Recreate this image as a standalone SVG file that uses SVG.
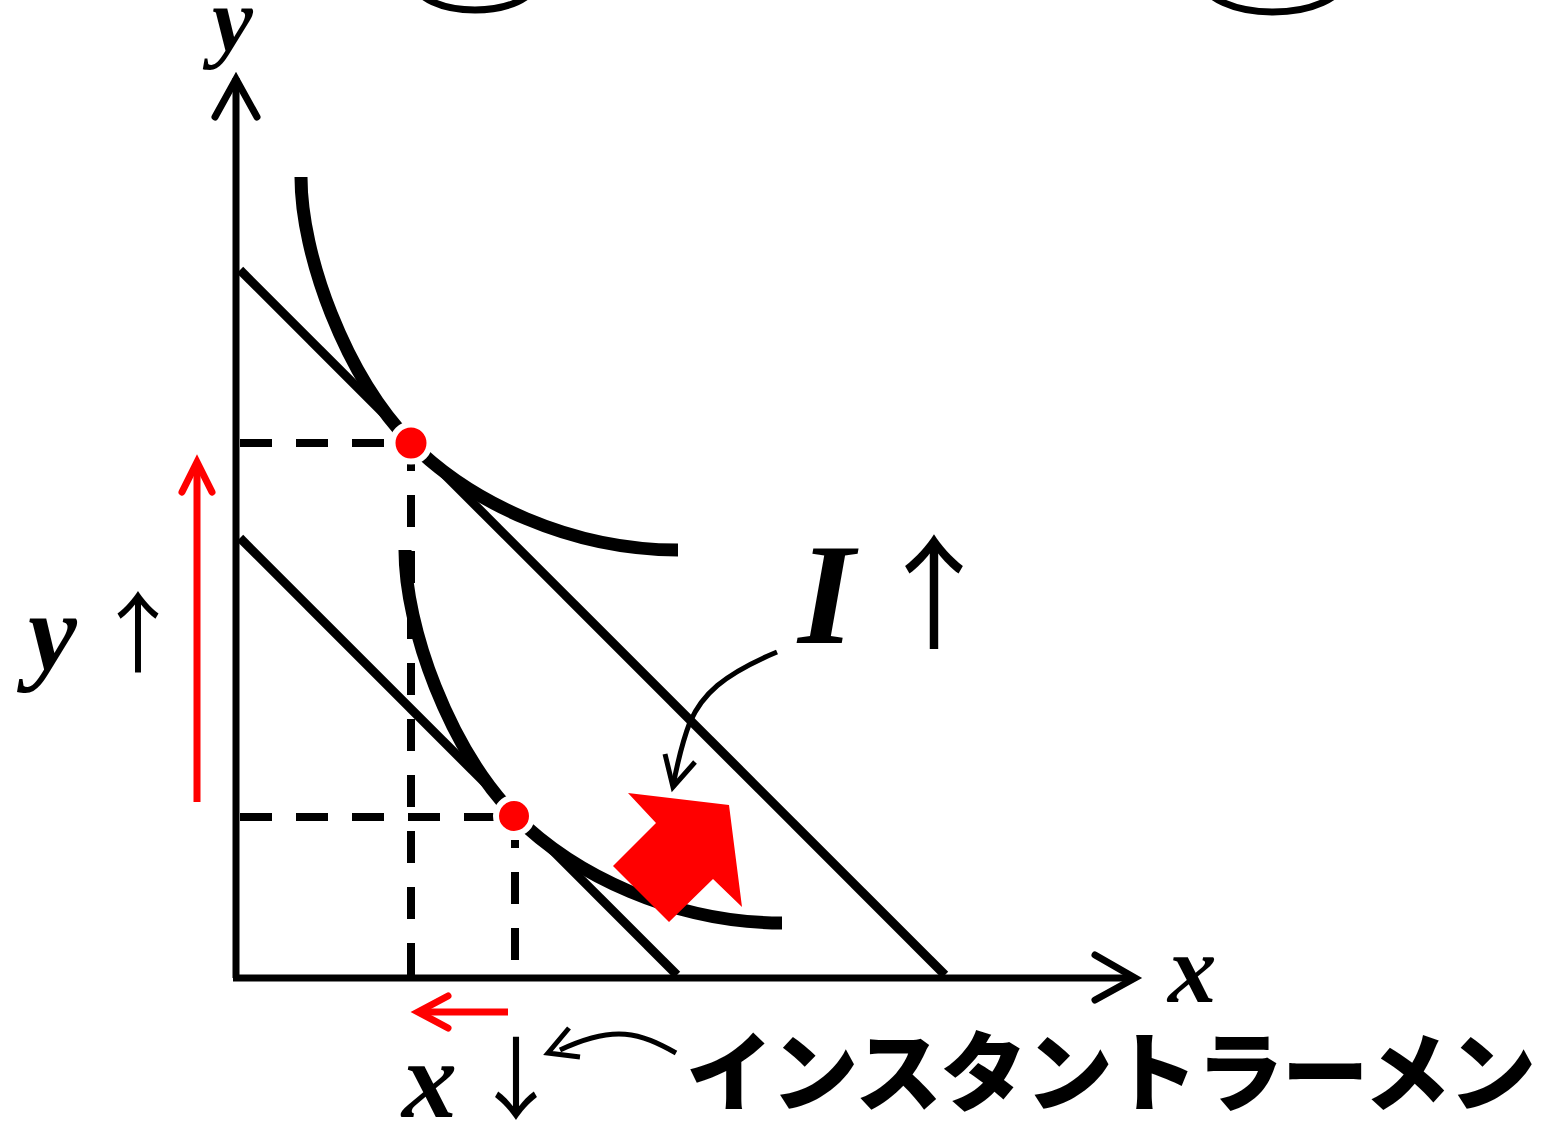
<svg xmlns="http://www.w3.org/2000/svg" width="1545" height="1121" viewBox="0 0 1545 1121">
<style>
.ax{stroke:#000;stroke-width:7;fill:none}
.bl{stroke:#000;stroke-width:9;fill:none}
.ic{stroke:#000;stroke-width:13;fill:none}
.dash{stroke:#000;stroke-width:8;fill:none;stroke-dasharray:32 24}
.chev{stroke:#000;stroke-width:7;fill:none;stroke-linecap:round;stroke-linejoin:miter}
.red{stroke:#f00;stroke-width:7;fill:none}
.redchev{stroke:#f00;stroke-width:7;fill:none;stroke-linecap:round}
.thin{stroke:#000;stroke-width:5;fill:none}
.dot{fill:#f00;stroke:#fff;stroke-width:6}
.math{font-family:"Liberation Serif",serif;font-style:italic;font-weight:bold;fill:#000}
.arr{font-family:"Noto Sans CJK JP",sans-serif;fill:#000}
.jp{font-family:"Noto Sans CJK JP",sans-serif;font-weight:900;fill:#000}
</style>
<rect width="1545" height="1121" fill="#fff"/>
<g id="top-arcs">
<ellipse cx="475" cy="-18" rx="60" ry="28" class="ax"/>
<ellipse cx="1273" cy="-20" rx="70" ry="32" class="ax"/>
</g>
<g id="axes">
<line x1="236" y1="978" x2="236" y2="78" class="ax"/>
<polyline points="215,117 236,79 257,117" class="chev"/>
<line x1="233" y1="978" x2="1134" y2="978" class="ax"/>
<polyline points="1095,955 1135,978 1095,1000" class="chev"/>
</g>
<g id="connectors">
<line x1="240" y1="443" x2="395" y2="443" class="dash"/>
<line x1="411" y1="975" x2="411" y2="462" class="dash"/>
<line x1="240" y1="817" x2="495" y2="817" class="dash"/>
<line x1="515" y1="960" x2="515" y2="840" class="dash"/>
<line x1="240" y1="270" x2="945" y2="975" class="bl"/>
<line x1="240" y1="538" x2="677" y2="975" class="bl"/>
<path d="M777,652 C722,675 702,695 690,722 C683,740 678,760 673,786" class="thin"/>
<polyline points="665,754 673,787 695,762" class="thin"/>
<path d="M676,1053 C640,1033 615,1024 560,1050" class="thin"/>
<polyline points="569,1028 548,1053 580,1057" class="thin"/>
<line x1="197" y1="802" x2="197" y2="466" class="red"/>
<polyline points="182,492 197,462 212,492" class="redchev"/>
<line x1="508" y1="1012" x2="420" y2="1012" class="red"/>
<polyline points="448,996 418,1012 448,1028" class="redchev"/>
</g>
<g id="curve1">
<path d="M301,177 C301,255 345,375 411,443 C470,502 570,550 678,550" class="ic"/>
</g>
<g id="curve2">
<path d="M301,177 C301,255 345,375 411,443 C470,502 570,550 678,550" class="ic" transform="translate(104,373)"/>
</g>
<g id="shift-arrow">
<polygon points="628,793 729,805 742,907 713,879 669,922 613,866 656,823" fill="#f00"/>
</g>
<g id="point1"><circle cx="411" cy="443" r="18.5" class="dot"/></g>
<g id="point2"><circle cx="514" cy="816" r="18" class="dot"/></g>
<g id="labels">
<text x="212" y="51" font-size="92" class="math">y</text>
<text x="28" y="670" font-size="110" class="math">y</text>
<text x="138" y="665" font-size="88" text-anchor="middle" class="arr">↑</text>
<text x="1168" y="1002" font-size="97" class="math">x</text>
<text x="402" y="1117" font-size="110" class="math">x</text>
<text x="516" y="1112" font-size="90" text-anchor="middle" class="arr">↓</text>
<text x="798" y="643" font-size="145" class="math">I</text>
<text x="934" y="639" font-size="124" text-anchor="middle" class="arr">↑</text>
<text x="686" y="1105" font-size="87" textLength="850" lengthAdjust="spacing" class="jp">インスタントラーメン</text>
</g>
</svg>
